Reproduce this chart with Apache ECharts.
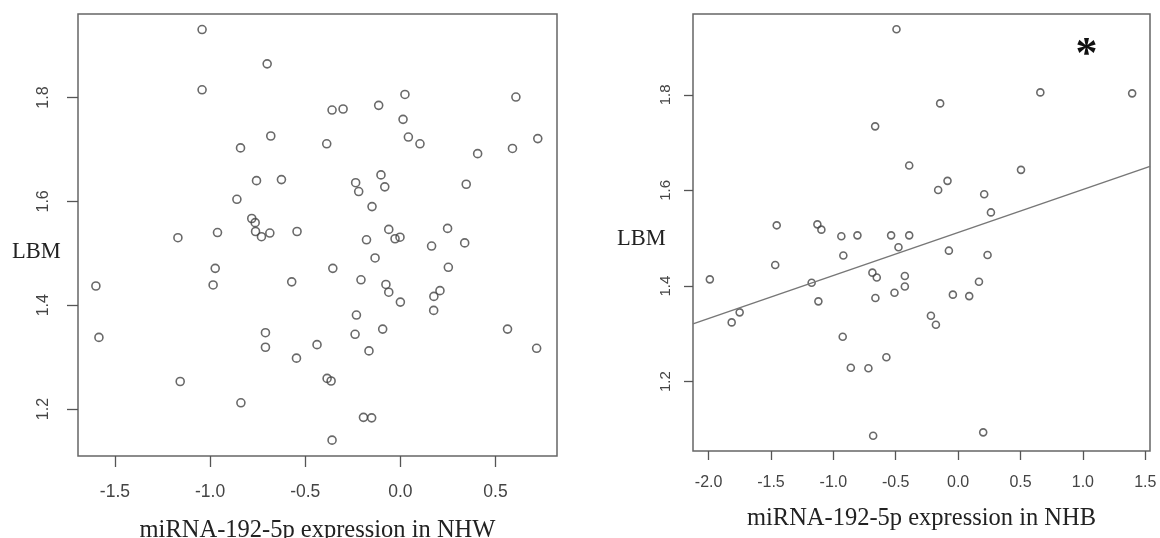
<!DOCTYPE html>
<html>
<head>
<meta charset="utf-8">
<script src="https://cdn.jsdelivr.net/npm/echarts@6/dist/echarts.min.js"></script>
<style>
html,body{margin:0;padding:0;background:#fff;}
#chart{width:1160px;height:538px;}
</style>
</head>
<body>
<div id="chart"></div>
<script>
// ---- Data ----
const nhwX = [-1.042,-0.700,-1.042,-0.681,-0.840,-0.756,-0.625,-0.859,-0.781,-0.763,-0.359,-0.301,-0.114,0.024,0.607,0.014,0.042,0.103,-0.387,0.722,0.589,0.406,-0.102,-0.235,-0.219,-0.082,0.346,-0.149,-0.761,-0.730,-0.686,-0.543,-0.961,-1.169,-0.973,-0.984,-1.600,-0.571,-1.584,-0.709,-0.709,-0.546,-1.157,-0.838,-0.061,-0.178,-0.028,-0.002,0.248,0.164,0.338,-0.133,-0.355,0.252,-0.207,-0.076,-0.061,0.000,0.208,0.176,0.175,-0.231,-0.238,-0.093,0.563,-0.438,-0.165,0.716,-0.385,-0.364,-0.194,-0.151,-0.359];
const nhwY = [1.931,1.865,1.815,1.726,1.703,1.640,1.642,1.604,1.567,1.559,1.776,1.778,1.785,1.806,1.801,1.758,1.724,1.711,1.711,1.721,1.702,1.692,1.651,1.636,1.619,1.628,1.633,1.590,1.542,1.532,1.539,1.542,1.540,1.530,1.471,1.439,1.437,1.445,1.338,1.347,1.319,1.298,1.253,1.212,1.546,1.526,1.528,1.531,1.548,1.514,1.520,1.491,1.471,1.473,1.449,1.440,1.425,1.406,1.428,1.417,1.390,1.381,1.344,1.354,1.354,1.324,1.312,1.317,1.259,1.254,1.184,1.183,1.140];

const nhbX = [-0.665,-1.454,-1.128,-1.096,-0.936,-0.807,-0.920,-0.494,0.659,1.395,-0.144,-0.392,0.504,-0.085,-0.160,0.209,0.263,-0.537,-0.392,-0.478,-0.074,0.236,-1.466,-1.990,-1.174,-1.120,-0.687,-0.652,-0.663,-1.751,-1.815,-0.925,-0.860,-0.719,-0.681,-0.427,-0.427,-0.510,-0.042,0.089,0.167,-0.218,-0.178,-0.575,0.201];
const nhbY = [1.734,1.527,1.529,1.518,1.504,1.506,1.464,1.937,1.805,1.803,1.782,1.652,1.643,1.620,1.601,1.592,1.554,1.506,1.506,1.481,1.474,1.465,1.444,1.414,1.407,1.368,1.428,1.418,1.375,1.345,1.324,1.294,1.229,1.228,1.087,1.421,1.399,1.386,1.382,1.379,1.409,1.338,1.319,1.251,1.094];

// fitted line of the NHB panel (intercept, slope)
const nhbFit = [1.512, 0.0899];

const xTicksNHW = [-1.5, -1.0, -0.5, 0.0, 0.5];
const yTicksNHW = [1.2, 1.4, 1.6, 1.8];
const xTicksNHB = [-2.0, -1.5, -1.0, -0.5, 0.0, 0.5, 1.0, 1.5];
const yTicksNHB = [1.2, 1.4, 1.6, 1.8];

const xRangeNHW = [-1.694, 0.823];
const yRangeNHW = [1.1095, 1.961];
const xRangeNHB = [-2.125, 1.538];
const yRangeNHB = [1.055, 1.969];

const xNameNHW = 'miRNA-192-5p expression in NHW';
const xNameNHB = 'miRNA-192-5p expression in NHB';
const yName = 'LBM';
const starText = '*';
const starPos = [1.03, 1.895];

// ---- Chart ----
const toPairs = (xs, ys) => xs.map((x, i) => [x, ys[i]]);
const fmt = v => Number(v).toFixed(1);

const chart = echarts.init(document.getElementById('chart'), null, {renderer: 'canvas'});

function xAxisCfg(grid, range, ticks, name, tickLen, fs, margin, gap) {
  return {
    gridIndex: grid, type: 'value', min: range[0], max: range[1],
    axisLine: {show: false, onZero: false}, splitLine: {show: false},
    axisTick: {show: true, length: tickLen, customValues: ticks, lineStyle: {color: '#555', width: 1.3}},
    axisLabel: {customValues: ticks, formatter: fmt, margin: margin, fontSize: fs, color: '#444', fontFamily: 'Liberation Sans'},
    name: name, nameLocation: 'middle', nameGap: gap,
    nameTextStyle: {fontFamily: 'Liberation Serif', fontSize: 24.5, color: '#222'}
  };
}
function yAxisCfg(grid, range, ticks, tickLen, fs, margin) {
  return {
    gridIndex: grid, type: 'value', min: range[0], max: range[1],
    axisLine: {show: false, onZero: false}, splitLine: {show: false},
    axisTick: {show: true, length: tickLen, customValues: ticks, lineStyle: {color: '#555', width: 1.3}},
    axisLabel: {customValues: ticks, formatter: fmt, rotate: 90, margin: margin, fontSize: fs, color: '#444', fontFamily: 'Liberation Sans'}
  };
}

const pointStyle = {color: 'rgba(0,0,0,0)', borderColor: '#444', borderWidth: 1.6};

const lbmStyle = {text: yName, font: '22.5px "Liberation Serif"', fill: '#222'};

const option = {
  animation: false,
  backgroundColor: '#fff',
  grid: [
    {left: 78, top: 14, width: 479, height: 442, show: true, borderColor: '#666', borderWidth: 1.5, backgroundColor: 'transparent', containLabel: false, outerBoundsMode: 'none'},
    {left: 693, top: 14, width: 457, height: 437, show: true, borderColor: '#666', borderWidth: 1.5, backgroundColor: 'transparent', containLabel: false, outerBoundsMode: 'none'}
  ],
  xAxis: [
    xAxisCfg(0, xRangeNHW, xTicksNHW, xNameNHW, 11, 17.5, 27, 62),
    xAxisCfg(1, xRangeNHB, xTicksNHB, xNameNHB, 9, 16, 24, 55)
  ],
  yAxis: [
    yAxisCfg(0, yRangeNHW, yTicksNHW, 11, 16, 26),
    yAxisCfg(1, yRangeNHB, yTicksNHB, 9, 15, 20)
  ],
  series: [
    {type: 'scatter', xAxisIndex: 0, yAxisIndex: 0, symbol: 'circle', symbolSize: 8,
     itemStyle: pointStyle, data: toPairs(nhwX, nhwY)},
    {type: 'scatter', xAxisIndex: 1, yAxisIndex: 1, symbol: 'circle', symbolSize: 7,
     itemStyle: pointStyle, data: toPairs(nhbX, nhbY)},
    {type: 'line', xAxisIndex: 1, yAxisIndex: 1, symbol: 'none', silent: true,
     lineStyle: {color: '#777', width: 1.5},
     data: xRangeNHB.map(x => [x, nhbFit[0] + nhbFit[1] * x])}
  ]
};
chart.setOption(option);

const sp = chart.convertToPixel({gridIndex: 1}, starPos);
chart.setOption({
  graphic: [
    {type: 'text', left: 12, top: 241, style: lbmStyle},
    {type: 'text', left: 617, top: 228, style: lbmStyle},
    {type: 'text', x: sp[0], y: sp[1] + 6, style: {text: starText, font: 'bold 44px "Liberation Serif"', fill: '#111', align: 'center', verticalAlign: 'middle'}}
  ]
});
</script>
</body>
</html>
